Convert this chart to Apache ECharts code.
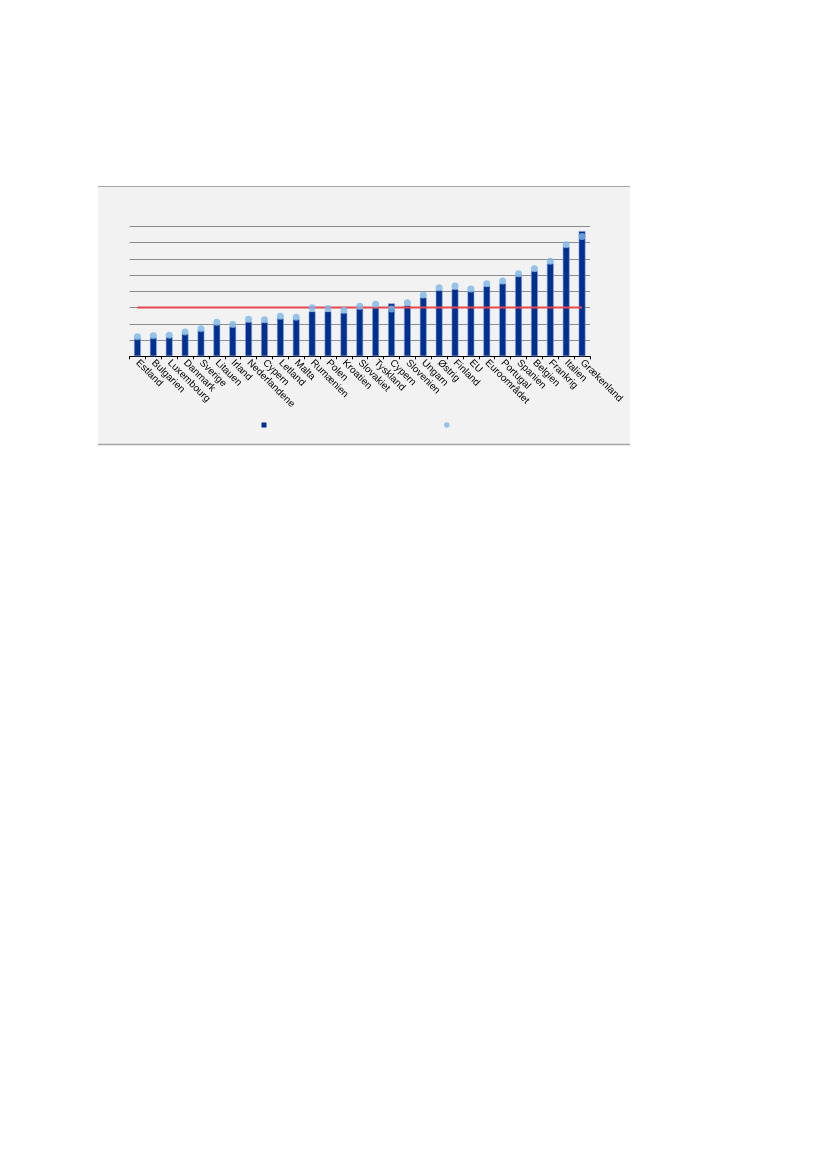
<!DOCTYPE html>
<html>
<head>
<meta charset="utf-8">
<script src="https://cdn.jsdelivr.net/npm/echarts@6/dist/echarts.min.js"></script>
<style>
    html, body { margin: 0; padding: 0; background: #fff; }
    #chart { width: 827px; height: 1169px; }
</style>
</head>
<body>
<div id="chart"></div>
<script>
    // lande, sorteret efter søjlehøjde
    var categories = ['Estland', 'Bulgarien', 'Luxembourg', 'Danmark', 'Sverige', 'Litauen', 'Irland',
        'Nederlandene', 'Cypern', 'Letland', 'Malta', 'Rumænien', 'Polen', 'Kroatien', 'Slovakiet',
        'Tyskland', 'Cypern', 'Slovenien', 'Ungarn', 'Østrig', 'Finland', 'EU', 'Euroområdet',
        'Portugal', 'Spanien', 'Belgien', 'Frankrig', 'Italien', 'Grækenland'];

    // søjler (mørkeblå)
    var barValues = [22.2, 23.4, 23.8, 27.9, 32, 39, 36.9, 42.6, 42.2, 46.8, 45.9, 55.4, 55.4, 53.7, 58.7,
        59.9, 65.2, 62.8, 72.6, 81.6, 82.9, 80, 86.6, 89.8, 98.8, 105.4, 114.5, 135, 154.2];

    // punkter (lyseblå)
    var dotValues = [24.2, 25.4, 25.8, 29.9, 34, 41.8, 39, 45.5, 45.1, 49.2, 48, 59.9, 58.7, 56.6, 61.5,
        64, 58.2, 66, 75.5, 84.5, 86.6, 82.9, 89.4, 92.7, 101.7, 107.9, 116.9, 137.4, 147.3];

    // referenceværdi (rød linje)
    var referenceValue = 60;
    var referenceLine = categories.map(function () { return referenceValue; });

    var yMin = 0, yMax = 160, yStep = 20;

    var chart = echarts.init(document.getElementById('chart'), null, {renderer: 'canvas'});

    var option = {
        backgroundColor: '#ffffff',
        animation: false,
        textStyle: {fontFamily: 'Liberation Sans, Arial, sans-serif'},
        graphic: [
            {type: 'rect', z: -10, silent: true, shape: {x: 98, y: 186, width: 532, height: 258}, style: {fill: '#f2f2f2'}},
            {type: 'line', z: -9, silent: true, shape: {x1: 98, y1: 186.5, x2: 630, y2: 186.5}, style: {stroke: '#a6a6a6', lineWidth: 1}},
            {type: 'line', z: -9, silent: true, shape: {x1: 98, y1: 444.5, x2: 630, y2: 444.5}, style: {stroke: '#a6a6a6', lineWidth: 1.5}}
        ],
        grid: {left: 129.5, right: 237, top: 226.3, bottom: 812.7, containLabel: false},
        legend: [
            {
                data: ['Søjler'], left: 261.5, top: 422.5, padding: 0, itemWidth: 5, itemHeight: 5, itemGap: 0,
                icon: 'rect', itemStyle: {borderWidth: 0}, formatter: function () { return ''; }, selectedMode: false
            },
            {
                data: ['Punkter'], left: 444, top: 422.3, padding: 0, itemWidth: 5.5, itemHeight: 5.5, itemGap: 0,
                icon: 'circle', itemStyle: {borderWidth: 0}, formatter: function () { return ''; }, selectedMode: false
            }
        ],
        xAxis: {
            type: 'category',
            data: categories,
            axisLine: {lineStyle: {color: '#000', width: 1}},
            axisTick: {show: true, length: 3, lineStyle: {color: '#000'}},
            axisLabel: {
                interval: 0,
                rotate: -45,
                fontSize: 10,
                color: '#000',
                margin: 5
            },
            splitLine: {show: false}
        },
        yAxis: {
            type: 'value',
            min: yMin,
            max: yMax,
            interval: yStep,
            axisLine: {show: false},
            axisTick: {show: false},
            axisLabel: {show: false},
            splitLine: {lineStyle: {color: '#8c8c8c', width: 1}}
        },
        series: [
            {
                name: 'Søjler',
                type: 'bar',
                data: barValues,
                barWidth: 7,
                itemStyle: {color: '#00308f', borderColor: 'rgba(140,160,215,0.7)', borderWidth: 0.8},
                z: 2
            },
            {
                name: 'Reference',
                type: 'line',
                data: referenceLine,
                symbol: 'none',
                lineStyle: {color: '#e8474f', width: 2},
                z: 3
            },
            {
                name: 'Punkter',
                type: 'scatter',
                data: dotValues,
                symbol: 'circle',
                symbolSize: 7,
                itemStyle: {color: '#7db5e6'},
                z: 4
            }
        ]
    };

    chart.setOption(option);
</script>
</body>
</html>
